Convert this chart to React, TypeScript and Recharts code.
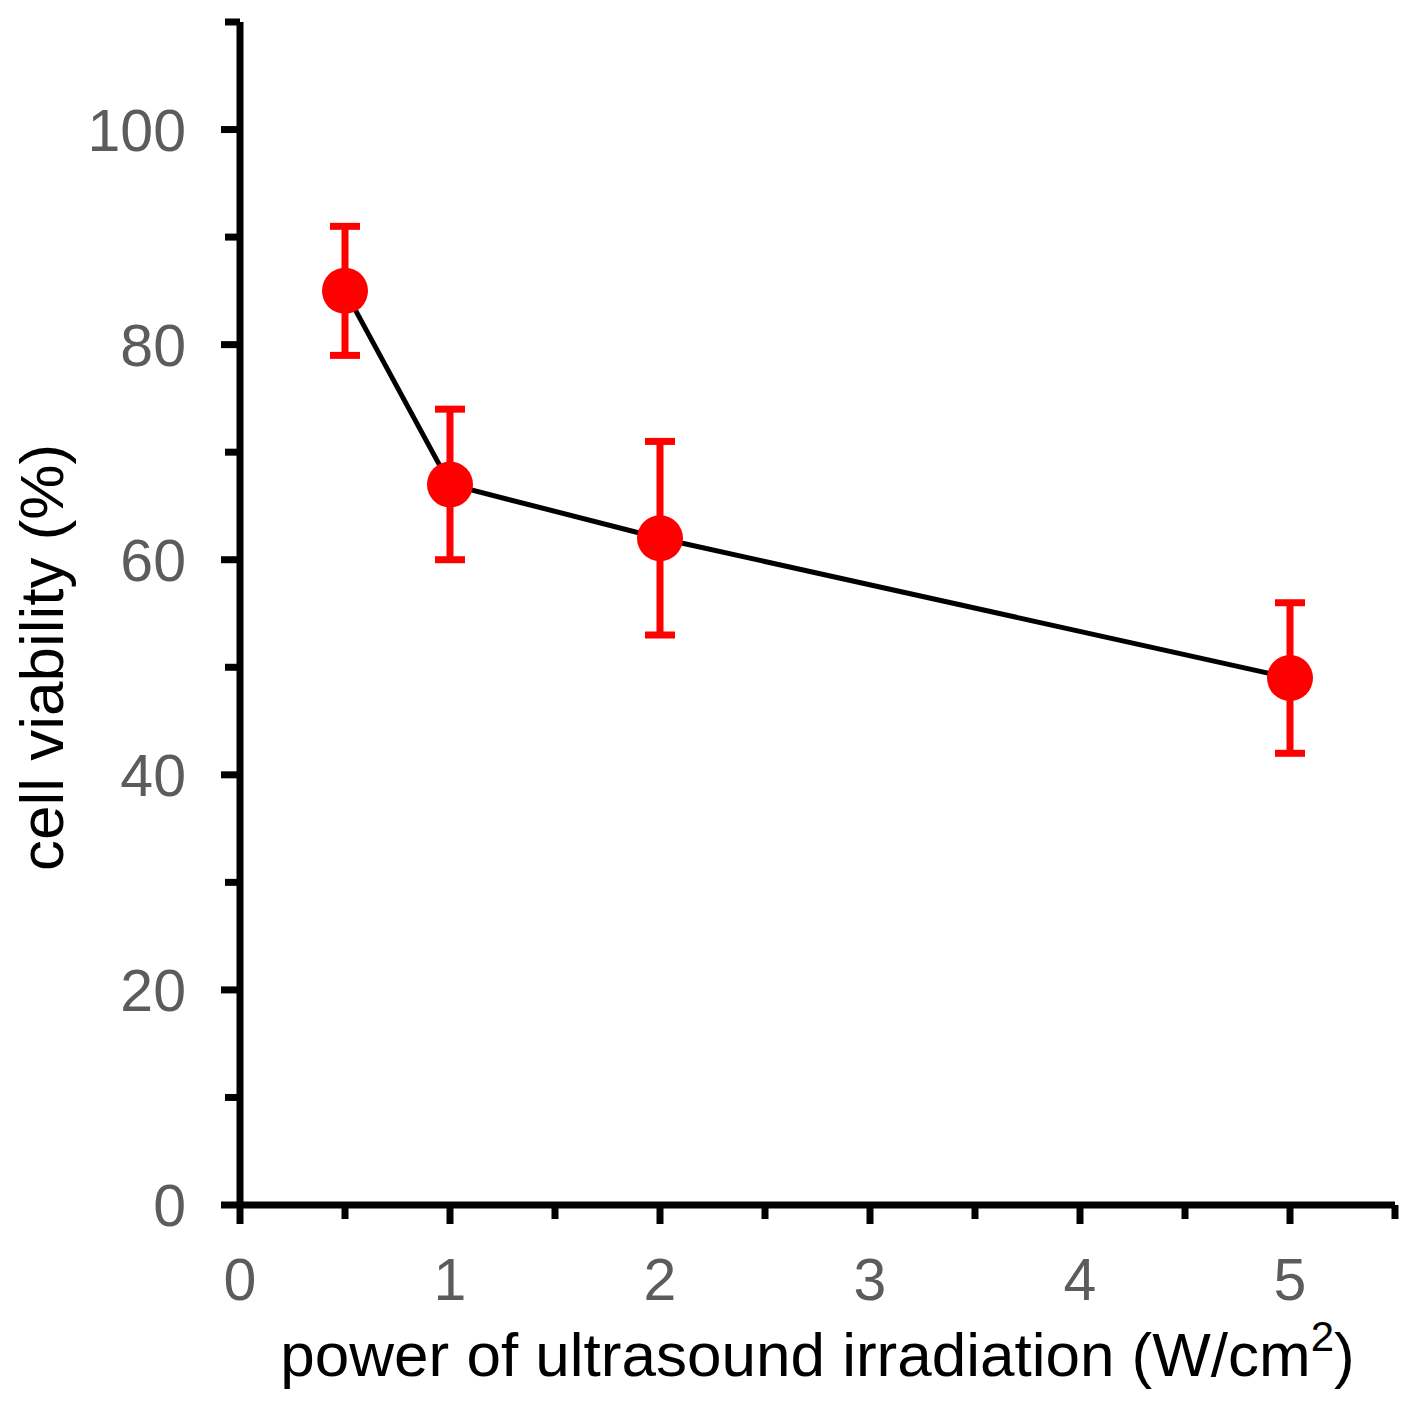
import { ComposedChart, Line, XAxis, YAxis, ErrorBar } from 'recharts';

const powers = [0.5, 1, 2, 5];
const viability = [85, 67, 62, 49];
const viabilityErr = [6, 7, 9, 7];

const xTicks = [0, 0.5, 1, 1.5, 2, 2.5, 3, 3.5, 4, 4.5, 5, 5.5];
const yTicks = [0, 10, 20, 30, 40, 50, 60, 70, 80, 90, 100, 110];
const yLabelled = [0, 20, 40, 60, 80, 100];

const data = powers.map((x, i) => ({ x, y: viability[i], err: viabilityErr[i] }));

const FONT = '"Liberation Sans", Arial, sans-serif';
const RED = '#ff0000';
const GREY = '#5c5c5c';

const XTick = ({ x, y, payload }: any) => {
    const v = payload.value;
    const major = Number.isInteger(v);
    return (
        <g>
            <line x1={x} x2={x} y1={y} y2={y + (major ? 19 : 14)} stroke="#000" strokeWidth={7} />
            {major && (
                <text x={x} y={y + 95} textAnchor="middle" fontSize={59} fontFamily={FONT} fill={GREY}>
                    {v}
                </text>
            )}
        </g>
    );
};

const YTick = ({ x, y, payload }: any) => {
    const v = payload.value;
    const major = yLabelled.includes(v);
    return (
        <g>
            <line x1={x} x2={x - (major ? 19 : 15)} y1={y} y2={y} stroke="#000" strokeWidth={7} />
            {major && (
                <text x={x - 54} y={y + 21} textAnchor="end" fontSize={59} fontFamily={FONT} fill={GREY}>
                    {v}
                </text>
            )}
        </g>
    );
};

const XTitle = ({ viewBox }: any) => {
    const cx = viewBox.x + viewBox.width / 2;
    const by = viewBox.y + 171;
    return (
        <text x={cx} y={by} textAnchor="middle" fontSize={62} fontFamily={FONT} fill="#000">
            power of ultrasound irradiation (W/cm
            <tspan fontSize={42} dy={-25}>2</tspan>
            <tspan dy={25}>)</tspan>
        </text>
    );
};

const YTitle = ({ viewBox }: any) => {
    const tx = viewBox.x + 63;
    const ty = viewBox.y + viewBox.height / 2 + 44;
    return (
        <text
            x={tx}
            y={ty}
            transform={`rotate(-90, ${tx}, ${ty})`}
            textAnchor="middle"
            fontSize={62}
            fontFamily={FONT}
            fill="#000"
        >
            cell viability (%)
        </text>
    );
};

const Dot = ({ cx, cy }: any) => <circle cx={cx} cy={cy} r={23} fill={RED} />;

export default function App() {
    return (
        <div style={{ position: 'absolute', left: 0, top: 0, background: '#fff' }}>
            <ComposedChart
                width={1419}
                height={1428}
                data={data}
                margin={{ top: 22, right: 24, bottom: 0, left: 0 }}
            >
                <XAxis
                    dataKey="x"
                    type="number"
                    domain={[0, 5.5]}
                    ticks={xTicks}
                    interval={0}
                    height={223}
                    tickSize={0}
                    tickMargin={0}
                    tickLine={false}
                    axisLine={{ stroke: '#000', strokeWidth: 7 }}
                    tick={<XTick />}
                    label={<XTitle />}
                />
                <YAxis
                    type="number"
                    domain={[0, 110]}
                    ticks={yTicks}
                    interval={0}
                    width={240}
                    tickSize={0}
                    tickMargin={0}
                    tickLine={false}
                    axisLine={{ stroke: '#000', strokeWidth: 7 }}
                    tick={<YTick />}
                    label={<YTitle />}
                />
                <Line
                    dataKey="y"
                    type="linear"
                    stroke="#000"
                    strokeWidth={5}
                    dot={<Dot />}
                    activeDot={false}
                    isAnimationActive={false}
                >
                    <ErrorBar dataKey="err" direction="y" width={15} strokeWidth={7} stroke={RED} />
                </Line>
            </ComposedChart>
        </div>
    );
}
